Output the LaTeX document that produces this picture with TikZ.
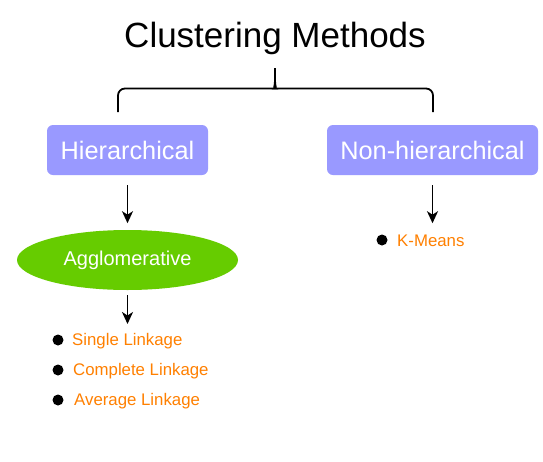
\documentclass[tikz,border=0pt]{standalone}
\usepackage{fontspec}
\setmainfont{Liberation Sans}
\usetikzlibrary{shapes.geometric,arrows.meta}
\definecolor{boxblue}{HTML}{9999FF}
\definecolor{aggreen}{HTML}{66CC00}
\definecolor{txtorange}{HTML}{FF8000}
\begin{document}
\begin{tikzpicture}[x=1pt,y=-1pt,
  catbox/.style={fill=boxblue, rounded corners=6pt, minimum height=50pt, inner sep=0pt, text=white, font=\fontsize{25.3}{29}\selectfont},
  agbox/.style={ellipse, fill=aggreen, minimum width=221pt, minimum height=60pt, inner sep=0pt, text=white, font=\fontsize{20}{23}\selectfont},
  arr/.style={-{Stealth[length=12pt,width=11pt,inset=3.5pt]}, line width=1.9pt},
  bracepath/.style={line width=1.8pt},
  dotmark/.style={circle, fill=black, minimum size=11pt, inner sep=0pt},
  itemtxt/.style={anchor=west, text=txtorange, inner sep=0pt, font=\fontsize{16.8}{20}\selectfont}]
\useasboundingbox (0,0) rectangle (543,461);
\fill[white] (0,0) rectangle (543,461);
\node[font=\fontsize{35}{40}\selectfont, inner sep=0pt] (title) at (275,38) {Clustering Methods};
\node[catbox, minimum width=161pt] (hier) at (127.5,150) {Hierarchical};
\node[catbox, minimum width=211pt] (nonhier) at (432.5,150) {Non-hierarchical};
\coordinate (bl) at (118,112);
\coordinate (br) at (433,112);
\coordinate (tip) at (275,68);
\draw[bracepath] (bl) [rounded corners=7pt] |- (268,88.5) [sharp corners] .. controls (273,88.5) and (275,86) .. (275,81) -- (tip);
\draw[bracepath] (br) [rounded corners=7pt] |- (282,88.5) [sharp corners] .. controls (277,88.5) and (275,86) .. (275,81);
\node[agbox] (agg) at (127.5,260) {Agglomerative};
\draw[arr] ([yshift=-10pt]hier.south) -- ([yshift=-48pt]hier.south);
\draw[arr] ([yshift=-10pt]nonhier.south) -- ([yshift=-48pt]nonhier.south);
\coordinate (a3) at (127.5,324);
\draw[arr] ([yshift=-5pt]agg.south) -- (a3);
\node[dotmark] (d1) at (58,340) {};
\node[itemtxt] (t1) at (72,341) {Single Linkage};
\node[dotmark] (d2) at (58,370) {};
\node[itemtxt] (t2) at (73,371) {Complete Linkage};
\node[dotmark] (d3) at (58,400) {};
\node[itemtxt] (t3) at (74,401) {Average Linkage};
\node[dotmark] (d4) at (382,240) {};
\node[itemtxt] (t4) at (397,241) {K-Means};
\end{tikzpicture}
\end{document}
